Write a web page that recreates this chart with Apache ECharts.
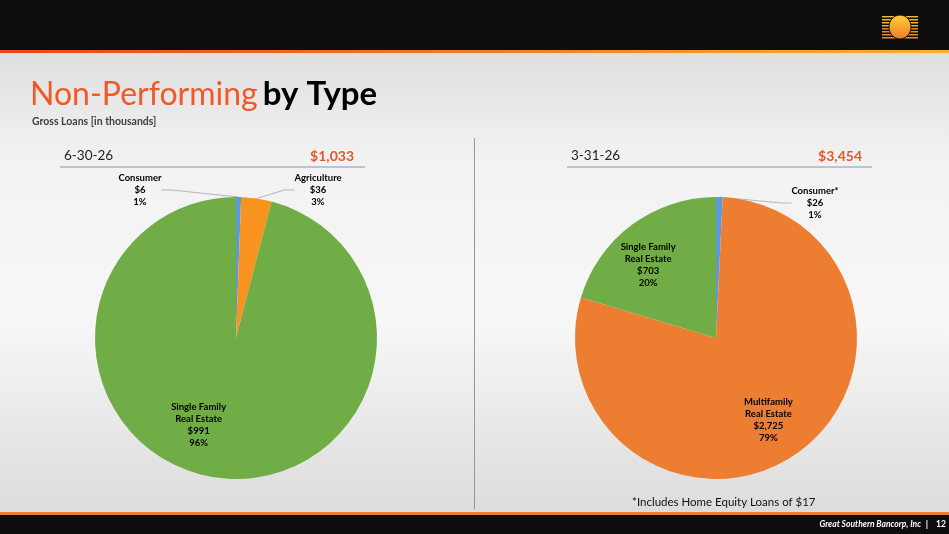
<!DOCTYPE html>
<html>
<head>
<meta charset="utf-8">
<script src="https://cdn.jsdelivr.net/npm/echarts@6/dist/echarts.min.js"></script>
<style>
  html, body { margin: 0; padding: 0; }
  #main { width: 949px; height: 534px; }
</style>
</head>
<body>
<div id="main"></div>
<script>
// 6-30-26
var junCats = ['Consumer', 'Agriculture', 'Single Family\nReal Estate'];
var junVals = [6, 36, 991];
var junPct = ['1%', '3%', '96%'];
var junColors = ['#5B9BD5', '#F7931E', '#70AD47'];
// 3-31-26
var marCats = ['Consumer*', 'Multifamily\nReal Estate', 'Single Family\nReal Estate'];
var marVals = [26, 2725, 703];
var marPct = ['1%', '79%', '20%'];
var marColors = ['#5B9BD5', '#ED7D31', '#70AD47'];

var junTotal = '$1,033';
var marTotal = '$3,454';

var chart = echarts.init(document.getElementById('main'));

function money(v) {
  return '$' + v.toLocaleString('en-US');
}

function buildData(cats, vals, pct, colors) {
  return cats.map(function (c, i) {
    return {
      name: c,
      value: vals[i],
      pct: pct[i],
      itemStyle: { color: colors[i] }
    };
  });
}

var labelStyle = {
  color: '#000',
  fontFamily: 'Lato',
  fontWeight: 'bold',
  fontSize: 9.5,
  lineHeight: 12,
  align: 'center'
};

// label offsets, per series / data index
var labelMoves = {
  0: { 0: { x: 140, y: 190 }, 1: { x: 318, y: 190 }, 2: { dx: -28, dy: 14 } },
  1: { 0: { x: 815, y: 203 }, 1: { dx: 10, dy: 22 }, 2: { dx: -24, dy: -14 } }
};

function labelLayout(params) {
  var m = labelMoves[params.seriesIndex][params.dataIndex];
  if (m.x != null) {
    return { x: m.x, y: m.y, align: 'center', verticalAlign: 'middle' };
  }
  return { dx: m.dx, dy: m.dy };
}

function pieSeries(center, data, outsideIdx) {
  return {
    type: 'pie',
    center: center,
    radius: 141,
    startAngle: 90,
    clockwise: true,
    animation: false,
    silent: true,
    itemStyle: { borderWidth: 0 },
    label: Object.assign({
      position: 'inside',
      formatter: function (p) {
        return p.name + '\n' + money(p.value) + '\n' + p.data.pct;
      }
    }, labelStyle),
    labelLine: { show: false },
    labelLayout: labelLayout,
    data: data.map(function (d, i) {
      if (outsideIdx.indexOf(i) >= 0) {
        d.label = { position: 'outside' };
        d.labelLine = { show: true, length: 10, length2: 10, lineStyle: { color: '#b5b5b5', width: 1 } };
      }
      return d;
    })
  };
}

// logo stripes
var logoStripes = [];
for (var k = 0; k < 8; k++) {
  logoStripes.push({
    type: 'rect',
    shape: { x: 882, y: 16 + k * 3, width: 36, height: 1.6 },
    style: { fill: k < 4 ? '#F3B52A' : '#EE8A25' }
  });
}

var option = {
  backgroundColor: {
    type: 'linear', x: 0, y: 0, x2: 0, y2: 1,
    colorStops: [
      { offset: 0, color: '#d6d6d6' },
      { offset: 0.3, color: '#f2f2f2' },
      { offset: 0.6, color: '#f7f7f7' },
      { offset: 1, color: '#d9d9d9' }
    ]
  },
  title: [
    {
      text: '{a|Non-Performing} {b|by Type}',
      left: 25, top: 73,
      textStyle: {
        rich: {
          a: { color: '#F05A28', fontSize: 32, fontFamily: 'Lato', fontWeight: 'normal' },
          b: { color: '#000', fontSize: 33, fontFamily: 'Lato', fontWeight: 'bold' }
        }
      }
    },
    {
      text: 'Gross Loans [in thousands]',
      left: 27, top: 111,
      textStyle: { color: '#404040', fontSize: 10.5, fontFamily: 'Lato', fontWeight: 'bold' }
    },
    {
      text: '6-30-26', left: 59, top: 144,
      textStyle: { color: '#222', fontSize: 13.5, fontFamily: 'Lato', fontWeight: 'normal' }
    },
    {
      text: junTotal, right: 949 - 359, top: 144,
      textStyle: { color: '#E8562A', fontSize: 14, fontFamily: 'Lato', fontWeight: 'bold' }
    },
    {
      text: '3-31-26', left: 566, top: 144,
      textStyle: { color: '#222', fontSize: 13.5, fontFamily: 'Lato', fontWeight: 'normal' }
    },
    {
      text: marTotal, right: 949 - 867, top: 144,
      textStyle: { color: '#E8562A', fontSize: 14, fontFamily: 'Lato', fontWeight: 'bold' }
    },
    {
      text: '*Includes Home Equity Loans of $17', left: 627, top: 491,
      textStyle: { color: '#111', fontSize: 11.5, fontFamily: 'Lato', fontWeight: 'normal' }
    }
  ],
  graphic: [
    { type: 'rect', shape: { x: 0, y: 0, width: 949, height: 51 }, style: { fill: '#0d0d0d' }, z: 0 },
    {
      type: 'rect', shape: { x: 0, y: 50, width: 949, height: 3 }, z: 1,
      style: {
        fill: {
          type: 'linear', x: 0, y: 0, x2: 1, y2: 0,
          colorStops: [{ offset: 0, color: '#E8481C' }, { offset: 1, color: '#F7B02A' }]
        }
      }
    },
    { type: 'rect', shape: { x: 0, y: 512, width: 949, height: 3 }, style: { fill: '#EE7A2E' }, z: 1 },
    { type: 'rect', shape: { x: 0, y: 515, width: 949, height: 19 }, style: { fill: '#0d0d0d' }, z: 0 },
    {
      type: 'text', x: 921, y: 524, z: 2,
      style: {
        text: 'Great Southern Bancorp, Inc', fill: '#fff', align: 'right', verticalAlign: 'middle',
        font: 'italic bold 8.5px Lato'
      }
    },
    {
      type: 'text', x: 927, y: 524, z: 2,
      style: { text: '|', fill: '#fff', align: 'center', verticalAlign: 'middle', font: 'bold 9px Lato' }
    },
    {
      type: 'text', x: 941, y: 524, z: 2,
      style: { text: '12', fill: '#fff', align: 'center', verticalAlign: 'middle', font: 'bold 8.5px Lato' }
    },
    // logo
    {
      type: 'group', z: 2,
      children: logoStripes.concat([
        {
          type: 'ellipse', shape: { cx: 900, cy: 27, rx: 11, ry: 12 },
          style: {
            fill: {
              type: 'linear', x: 0, y: 0, x2: 0, y2: 1,
              colorStops: [{ offset: 0, color: '#FFD23A' }, { offset: 1, color: '#F07A22' }]
            },
            stroke: '#0d0d0d', lineWidth: 1
          }
        }
      ])
    },
    // header rules
    { type: 'line', shape: { x1: 60, y1: 167, x2: 365, y2: 167 }, style: { stroke: '#8497B0', lineWidth: 1 } },
    { type: 'line', shape: { x1: 567, y1: 167, x2: 872, y2: 167 }, style: { stroke: '#8497B0', lineWidth: 1 } },
    // divider
    { type: 'line', shape: { x1: 474.5, y1: 138, x2: 474.5, y2: 509 }, style: { stroke: '#8e9aa6', lineWidth: 1 } }
  ],
  series: [
    pieSeries([236, 338], buildData(junCats, junVals, junPct, junColors), [0, 1]),
    pieSeries([716, 338], buildData(marCats, marVals, marPct, marColors), [0])
  ]
};

chart.setOption(option);
</script>
</body>
</html>
